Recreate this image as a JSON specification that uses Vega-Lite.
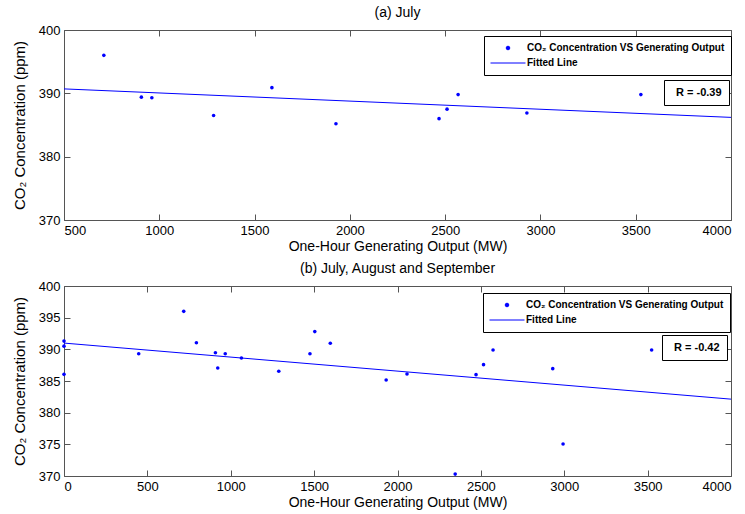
{
  "$schema": "https://vega.github.io/schema/vega-lite/v6.json",
  "background": "white",
  "padding": {"left": 11, "top": 5, "right": 12, "bottom": 2},
  "spacing": 7,
  "resolve": {"scale": {"color": "independent", "shape": "independent", "size": "independent", "opacity": "independent"}},
  "config": {
    "font": "Liberation Sans",
    "view": {"stroke": "#555", "strokeWidth": 1},
    "axis": {
      "grid": false, "domain": false, "tickColor": "#555", "tickSize": -6, "labelPadding": 10,
      "labelFontSize": 13, "labelColor": "black", "labelFont": "Liberation Sans",
      "titleFontSize": 14, "titleFontWeight": "normal", "titleColor": "black", "titleFont": "Liberation Sans"
    },
    "axisY": {"titleFontSize": 15, "titlePadding": 11},
    "axisX": {"titlePadding": 2},
    "title": {"fontSize": 14, "fontWeight": "normal", "font": "Liberation Sans", "offset": 4, "color": "black"},
    "legend": {"orient": "none", "strokeColor": "black", "fillColor": "white", "labelColor": "black", "labelFont": "Liberation Sans"}
  },
  "datasets": {
    "july": [
      {"output": 709, "co2": 396.0},
      {"output": 906, "co2": 389.4},
      {"output": 961, "co2": 389.3},
      {"output": 1285, "co2": 386.5},
      {"output": 1591, "co2": 390.9},
      {"output": 1927, "co2": 385.2},
      {"output": 2468, "co2": 386.0},
      {"output": 2510, "co2": 387.5},
      {"output": 2568, "co2": 389.8},
      {"output": 2929, "co2": 386.9},
      {"output": 3527, "co2": 389.8}
    ],
    "summer": [
      {"output": 0, "co2": 391.3},
      {"output": 0, "co2": 390.5},
      {"output": 0, "co2": 386.05},
      {"output": 448, "co2": 389.3},
      {"output": 718, "co2": 396.0},
      {"output": 794, "co2": 391.05},
      {"output": 908, "co2": 389.47},
      {"output": 922, "co2": 387.05},
      {"output": 967, "co2": 389.3},
      {"output": 1064, "co2": 388.63},
      {"output": 1288, "co2": 386.53},
      {"output": 1475, "co2": 389.3},
      {"output": 1504, "co2": 392.8},
      {"output": 1597, "co2": 390.95},
      {"output": 1932, "co2": 385.16},
      {"output": 2057, "co2": 386.1},
      {"output": 2346, "co2": 370.3},
      {"output": 2471, "co2": 386.0},
      {"output": 2516, "co2": 387.58},
      {"output": 2573, "co2": 389.9},
      {"output": 2931, "co2": 386.95},
      {"output": 2993, "co2": 375.05},
      {"output": 3524, "co2": 389.9}
    ]
  },
  "vconcat": [
    {
      "title": "(a) July",
      "width": 667,
      "height": 190,
      "resolve": {"axis": {"x": "independent", "y": "independent"}},
      "layer": [
        {
          "data": {"name": "july"},
          "mark": {"type": "point", "filled": true, "opacity": 1},
          "encoding": {
            "x": {"field": "output", "type": "quantitative", "scale": {"domain": [500, 4000], "nice": false},
                  "axis": {"values": [500, 1000, 1500, 2000, 2500, 3000, 3500, 4000], "format": "d", "title": "One-Hour Generating Output (MW)"}},
            "y": {"field": "co2", "type": "quantitative", "scale": {"domain": [370, 400], "nice": false, "zero": false},
                  "axis": {"values": [370, 380, 390, 400], "title": "CO₂ Concentration (ppm)"}},
            "color": {"datum": "CO₂ Concentration VS Generating Output", "type": "nominal",
                      "scale": {"domain": ["CO₂ Concentration VS Generating Output", "Fitted Line"], "range": ["blue", "blue"]},
                      "legend": {"title": null, "legendX": 420, "legendY": 6, "padding": 6, "rowPadding": 3, "clipHeight": 12, "labelOffset": 1, "labelFontSize": 10, "labelFontWeight": "bold", "labelLimit": 400, "symbolStrokeColor": "blue", "symbolStrokeWidth": 1}},
            "shape": {"datum": "CO₂ Concentration VS Generating Output", "type": "nominal",
                      "scale": {"domain": ["CO₂ Concentration VS Generating Output", "Fitted Line"], "range": ["circle", "stroke"]},
                      "legend": {"title": null}},
            "size": {"datum": "CO₂ Concentration VS Generating Output", "type": "ordinal",
                     "scale": {"domain": ["CO₂ Concentration VS Generating Output", "Fitted Line"], "range": [13, 1225]},
                     "legend": {"title": null}}
          }
        },
        {
          "data": {"name": "july"},
          "transform": [{"regression": "co2", "on": "output", "extent": [500, 4000]}],
          "mark": {"type": "line", "color": "blue", "strokeWidth": 1},
          "encoding": {
            "x": {"field": "output", "type": "quantitative", "axis": {"orient": "top", "labels": false, "title": null, "values": [500, 1000, 1500, 2000, 2500, 3000, 3500, 4000]}},
            "y": {"field": "co2", "type": "quantitative", "axis": {"orient": "right", "labels": false, "title": null, "values": [370, 380, 390, 400]}},
            "opacity": {"datum": "R = -0.39", "type": "nominal", "scale": {"range": [1]},
                        "legend": {"title": null, "legendX": 600, "legendY": 50, "padding": 7, "symbolType": "circle", "symbolSize": 0, "symbolOpacity": 0, "symbolStrokeWidth": 0, "labelOffset": -6, "labelFontSize": 11, "labelFontWeight": "bold"}}
          }
        }
      ]
    },
    {
      "title": "(b) July, August and September",
      "width": 667,
      "height": 190,
      "resolve": {"axis": {"x": "independent", "y": "independent"}},
      "layer": [
        {
          "data": {"name": "summer"},
          "mark": {"type": "point", "filled": true, "opacity": 1},
          "encoding": {
            "x": {"field": "output", "type": "quantitative", "scale": {"domain": [0, 4000], "nice": false},
                  "axis": {"values": [0, 500, 1000, 1500, 2000, 2500, 3000, 3500, 4000], "format": "d", "title": "One-Hour Generating Output (MW)"}},
            "y": {"field": "co2", "type": "quantitative", "scale": {"domain": [370, 400], "nice": false, "zero": false},
                  "axis": {"values": [370, 375, 380, 385, 390, 395, 400], "title": "CO₂ Concentration (ppm)"}},
            "color": {"datum": "CO₂ Concentration VS Generating Output", "type": "nominal",
                      "scale": {"domain": ["CO₂ Concentration VS Generating Output", "Fitted Line"], "range": ["blue", "blue"]},
                      "legend": {"title": null, "legendX": 419, "legendY": 7, "padding": 6, "rowPadding": 3, "clipHeight": 12, "labelOffset": 1, "labelFontSize": 10, "labelFontWeight": "bold", "labelLimit": 400, "symbolStrokeColor": "blue", "symbolStrokeWidth": 1}},
            "shape": {"datum": "CO₂ Concentration VS Generating Output", "type": "nominal",
                      "scale": {"domain": ["CO₂ Concentration VS Generating Output", "Fitted Line"], "range": ["circle", "stroke"]},
                      "legend": {"title": null}},
            "size": {"datum": "CO₂ Concentration VS Generating Output", "type": "ordinal",
                     "scale": {"domain": ["CO₂ Concentration VS Generating Output", "Fitted Line"], "range": [13, 1225]},
                     "legend": {"title": null}}
          }
        },
        {
          "data": {"name": "summer"},
          "transform": [{"regression": "co2", "on": "output", "extent": [0, 4000]}],
          "mark": {"type": "line", "color": "blue", "strokeWidth": 1},
          "encoding": {
            "x": {"field": "output", "type": "quantitative", "axis": {"orient": "top", "labels": false, "title": null, "values": [0, 500, 1000, 1500, 2000, 2500, 3000, 3500, 4000]}},
            "y": {"field": "co2", "type": "quantitative", "axis": {"orient": "right", "labels": false, "title": null, "values": [370, 375, 380, 385, 390, 395, 400]}},
            "opacity": {"datum": "R = -0.42", "type": "nominal", "scale": {"range": [1]},
                        "legend": {"title": null, "legendX": 598, "legendY": 49, "padding": 7, "symbolType": "circle", "symbolSize": 0, "symbolOpacity": 0, "symbolStrokeWidth": 0, "labelOffset": -6, "labelFontSize": 11, "labelFontWeight": "bold"}}
          }
        }
      ]
    }
  ]
}
